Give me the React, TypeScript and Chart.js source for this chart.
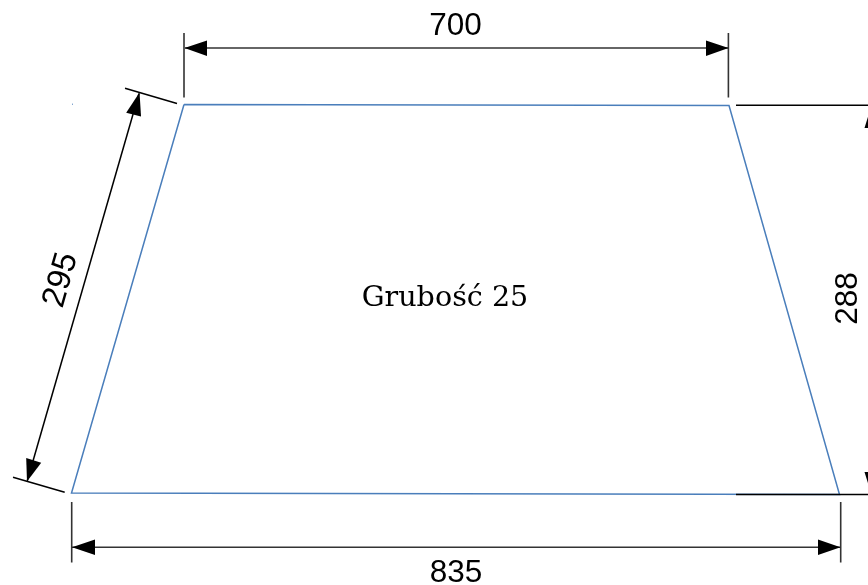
import React, { useEffect, useRef } from "react";
import { Chart, registerables } from "chart.js";

Chart.register(...registerables);

type P = { x: number; y: number };
const pts = (a: number[][]): P[] => a.map(([x, y]) => ({ x, y }));

const outline = pts([[184, 104.5], [729, 105.5], [839.5, 494.5], [71.5, 493], [184, 104.5]]);
const strayDot = pts([[72, 104.2], [73, 104.2]]);

const topDimLine = pts([[185, 48], [728, 48]]);
const topExtA = pts([[184, 33], [184, 97.5]]);
const topExtB = pts([[728.4, 33], [728.4, 97.5]]);
const bottomDimLine = pts([[72, 547.3], [840, 547.3]]);
const bottomExtA = pts([[71.7, 502], [71.7, 562.5]]);
const bottomExtB = pts([[840.7, 502], [840.7, 562.5]]);
const rightExtA = pts([[736, 105.3], [868, 105.3]]);
const rightExtB = pts([[736, 494.5], [868, 494.5]]);
const leftDimLine = pts([[139, 93.5], [27.3, 480.7]]);
const leftExtA = pts([[125, 88.3], [177, 103.5]]);
const leftExtB = pts([[13, 477.3], [64.7, 492.3]]);

const arrowHeads = [
  pts([[184.5, 48], [207, 40.5], [207, 56]]),
  pts([[728.5, 48], [706, 40.5], [706, 56]]),
  pts([[72, 547.3], [95, 539.5], [95, 555]]),
  pts([[840.5, 547.3], [818, 539.5], [818, 555]]),
  pts([[139.5, 92.5], [126.2, 112.7], [141, 116.5]]),
  pts([[27, 481.5], [26.2, 458], [41.2, 462.7]]),
  pts([[871.7, 105], [864.5, 128], [879, 128]]),
  pts([[871.7, 495], [864.5, 472], [879, 472]]),
];

const labelTexts = ["700", "835", "295", "288", "Grubość 25"];
const labelX = [455.5, 456, 61, 848, 445];
const labelY = [26, 573, 280, 298.5, 299];
const labelAngle = [0, 0, -74, -90, 0];
const labelFont = [
  "31.5px 'Liberation Sans'",
  "31.5px 'Liberation Sans'",
  "33px 'Liberation Sans'",
  "31.5px 'Liberation Sans'",
  "28.6px 'DejaVu Serif'",
];

const thinBlack = [rightExtA, rightExtB, leftDimLine, leftExtA, leftExtB];
const grey = [topDimLine, topExtA, topExtB, bottomDimLine, bottomExtA, bottomExtB];

const textPlugin = {
  id: "drawingText",
  afterDatasetsDraw(chart: any) {
    const { ctx, scales } = chart;
    labelTexts.forEach((t, i) => {
      ctx.save();
      ctx.translate(scales.x.getPixelForValue(labelX[i]), scales.y.getPixelForValue(labelY[i]));
      ctx.rotate((labelAngle[i] * Math.PI) / 180);
      ctx.font = labelFont[i];
      ctx.fillStyle = "#000";
      ctx.textAlign = "center";
      ctx.textBaseline = "middle";
      ctx.fillText(t, 0, 0);
      ctx.restore();
    });
  },
};

export default function App() {
  const ref = useRef<HTMLCanvasElement>(null);
  useEffect(() => {
    document.body.style.margin = "0";
    const line = (data: P[], color: string, width: number) => ({
      data,
      borderColor: color,
      borderWidth: width,
      showLine: true,
      pointRadius: 0,
      fill: false,
      tension: 0,
    });
    const chart = new Chart(ref.current!, {
      type: "scatter",
      data: {
        datasets: [
          ...arrowHeads.map((d) => ({
            ...line(d, "#000", 0),
            backgroundColor: "#000",
            fill: "shape",
          })),
          ...thinBlack.map((d) => line(d, "#000", 1.5)),
          ...grey.map((d) => line(d, "#333", 1.6)),
          line(outline, "#4a7ebb", 1.5),
          line(strayDot, "#4a7ebb", 1),
        ] as any,
      },
      options: {
        animation: false,
        responsive: false,
        layout: { padding: 0 },
        plugins: { legend: { display: false }, tooltip: { enabled: false } },
        scales: {
          x: { type: "linear", min: 0, max: 868, display: false },
          y: { type: "linear", min: 0, max: 585, reverse: true, display: false },
        },
      },
      plugins: [textPlugin],
    });
    return () => chart.destroy();
  }, []);
  return <canvas ref={ref} width={868} height={585} style={{ display: "block", background: "#fff" }} />;
}
